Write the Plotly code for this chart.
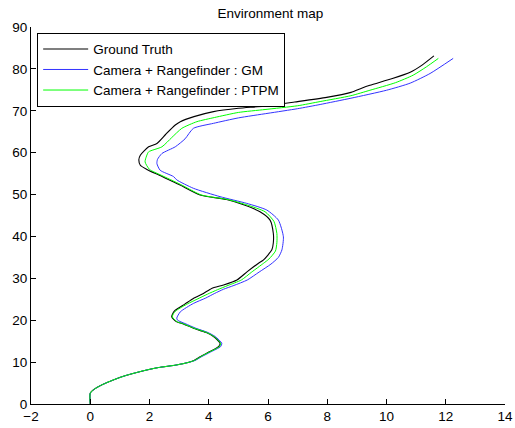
import plotly.graph_objects as go

gt_x = [0, 0, 0.15, 0.4, 0.8, 1.2, 1.77, 2.3, 2.9, 3.3, 3.5, 3.71, 4.0, 4.33, 4.38, 4.16, 3.9, 3.48, 3.1, 2.92, 2.75, 2.8, 2.87, 3.2, 3.48, 3.82, 4.1, 4.5, 4.95, 5.3, 5.68, 5.85, 6.13, 6.18, 6.18, 6.07, 5.73, 5.2, 4.6, 3.71, 3.0, 2.3, 1.91, 1.69, 1.64, 1.69, 1.97, 2.25, 2.55, 2.87, 3.04, 3.5, 4.16, 5.0, 5.85, 6.9, 7.98, 8.8, 9.16, 9.44, 10.2, 10.8, 11.2, 11.6]
gt_y = [0, 2.6, 3.6, 4.6, 5.8, 6.8, 7.9, 8.7, 9.3, 9.9, 10.4, 11.3, 12.4, 13.7, 14.5, 16.1, 17.1, 18.1, 19.2, 19.6, 20.8, 21.8, 22.4, 23.9, 25.2, 26.4, 27.6, 28.4, 29.6, 31.6, 33.6, 34.4, 36.8, 38.5, 40.7, 43.9, 45.9, 47.5, 48.8, 49.9, 52.4, 54.7, 56.0, 57.0, 58.3, 59.4, 61.4, 62.2, 64.4, 66.6, 67.4, 68.6, 69.8, 70.6, 71.1, 72.1, 73.2, 74.4, 75.4, 76.1, 77.7, 79.2, 80.9, 83.1]

ptpm_x = [0, 0, 0.15, 0.4, 0.8, 1.2, 1.77, 2.3, 2.9, 3.3, 3.52, 3.73, 4.02, 4.36, 4.4, 4.18, 3.92, 3.5, 3.12, 2.94, 2.77, 2.83, 2.92, 3.28, 3.6, 3.95, 4.3, 4.65, 5.1, 5.45, 5.85, 6.03, 6.25, 6.3, 6.3, 6.2, 5.9, 5.3, 4.65, 3.75, 3.05, 2.4, 2.0, 1.85, 1.9, 1.97, 2.42, 2.75, 3.09, 3.6, 4.2, 5.0, 5.9, 7.0, 7.76, 8.8, 9.44, 10.3, 10.9, 11.35, 11.75]
ptpm_y = [0, 2.6, 3.6, 4.6, 5.8, 6.8, 7.9, 8.7, 9.3, 9.9, 10.4, 11.3, 12.4, 13.7, 14.5, 16.1, 17.1, 18.1, 19.2, 19.6, 20.8, 21.8, 22.4, 23.9, 25.0, 26.2, 27.3, 28.3, 29.6, 31.5, 33.6, 34.6, 36.5, 38.5, 40.7, 43.6, 45.9, 47.5, 48.8, 49.9, 52.4, 54.6, 56.0, 57.8, 59.2, 60.2, 61.4, 63.6, 65.8, 67.4, 68.4, 69.6, 70.3, 71.2, 72.2, 73.6, 74.9, 76.7, 78.5, 80.5, 82.5]

gm_x = [0, 0, 0.15, 0.4, 0.8, 1.2, 1.77, 2.3, 2.9, 3.3, 3.54, 3.76, 4.06, 4.4, 4.44, 4.22, 3.96, 3.56, 3.2, 2.95, 2.92, 3.04, 3.48, 3.9, 4.2, 4.5, 4.85, 5.3, 5.7, 6.1, 6.35, 6.47, 6.52, 6.35, 5.96, 5.28, 4.38, 3.48, 2.92, 2.81, 2.36, 2.25, 2.27, 2.42, 2.87, 3.2, 3.48, 4.16, 5.0, 6.0, 7.0, 7.76, 8.8, 10.0, 10.8, 11.47, 12.25]
gm_y = [0, 2.6, 3.6, 4.6, 5.8, 6.8, 7.9, 8.7, 9.3, 9.9, 10.4, 11.3, 12.4, 13.7, 14.5, 16.1, 17.1, 18.1, 19.2, 20.0, 20.5, 22.0, 24.0, 25.3, 26.4, 27.4, 28.3, 29.6, 31.5, 33.4, 35.0, 36.8, 39.9, 43.9, 46.3, 47.9, 49.5, 51.5, 53.5, 54.3, 55.8, 57.4, 58.4, 59.8, 61.4, 63.3, 65.8, 67.0, 68.3, 69.4, 70.5, 71.5, 73.0, 74.9, 76.6, 78.9, 82.5]

x_ticks = [-2, 0, 2, 4, 6, 8, 10, 12, 14]
y_ticks = [0, 10, 20, 30, 40, 50, 60, 70, 80, 90]

FONT = "Liberation Sans, Arial, Helvetica"

fig = go.Figure()
fig.add_trace(go.Scatter(x=gt_x, y=gt_y, mode="lines", name="Ground Truth",
                         line=dict(color="black", width=1.1, shape="spline", smoothing=0.6)))
fig.add_trace(go.Scatter(x=gm_x, y=gm_y, mode="lines", name="Camera + Rangefinder : GM",
                         line=dict(color="#3333ff", width=1, shape="spline", smoothing=0.6)))
fig.add_trace(go.Scatter(x=ptpm_x, y=ptpm_y, mode="lines", name="Camera + Rangefinder : PTPM",
                         line=dict(color="#00ff00", width=1, shape="spline", smoothing=0.6)))

axis_common = dict(showgrid=False, zeroline=False, showline=True, linecolor="black", linewidth=1,
                   ticks="inside", ticklen=5, tickcolor="black", mirror=False, automargin=False,
                   tickfont=dict(family=FONT, size=13.5, color="black"))

fig.update_layout(
    width=515, height=428,
    margin=dict(l=31, r=10, t=27, b=24),
    paper_bgcolor="white", plot_bgcolor="white",
    title=dict(text="Environment map", x=0.525, xanchor="center", y=0.98, yanchor="top",
               font=dict(family=FONT, size=13.5, color="black")),
    xaxis=dict(range=[-2, 14], tickvals=x_ticks, **axis_common),
    yaxis=dict(range=[0, 90], tickvals=y_ticks, **axis_common),
    legend=dict(x=0.013, y=0.985, xanchor="left", yanchor="top", bgcolor="white",
                bordercolor="black", borderwidth=1, tracegroupgap=0, itemwidth=45,
                font=dict(family=FONT, size=13.5, color="black")),
    showlegend=True,
)

fig.write_html("out.html", post_script="document.body.style.margin='0px';",
               config={"displayModeBar": False})
